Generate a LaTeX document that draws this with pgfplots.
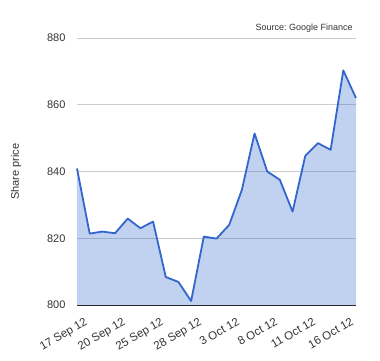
\documentclass[border=0pt]{standalone}
\usepackage{pgfplots}
\pgfplotsset{compat=1.18}
\usepackage{fontspec}
\setmainfont{Liberation Sans}
\definecolor{gline}{HTML}{3366CC}
\definecolor{ggrid}{HTML}{CCCCCC}
\definecolor{gtext}{HTML}{333333}
\begin{document}
\begin{tikzpicture}
\useasboundingbox (-77pt,-55pt) rectangle (303pt,305pt);
\begin{axis}[
  at={(0,0)}, anchor=south west,
  scale only axis, width=279pt, height=267pt,
  clip=false,
  xmin=0, xmax=22, ymin=800, ymax=880,
  ytick={800,820,840,860,880},
  xtick={0,3,6,9,12,15,18,21},
  xticklabels={17 Sep 12,20 Sep 12,25 Sep 12,28 Sep 12,3 Oct 12,8 Oct 12,11 Oct 12,16 Oct 12},
  ymajorgrids, grid style={ggrid, line width=0.8pt},
  major tick length=0pt,
  axis x line*=bottom, axis y line*=left,
  y axis line style={draw=none},
  x axis line style={draw=black!85, line width=1pt},
  /pgf/number format/assume math mode=true,
  yticklabel style={font=\fontsize{11}{13}\selectfont, text=gtext, anchor=east, xshift=-8pt},
  xticklabel style={font=\fontsize{11.5}{13}\selectfont, text=gtext, xshift=7pt, yshift=-12pt, rotate=30, anchor=north east, inner sep=0pt},
  every axis y label/.style={at={(axis description cs:0,0.5)}, xshift=-61pt, rotate=90, anchor=center, font=\fontsize{11}{13}\selectfont, text=gtext},
  ylabel={Share price},
]
\addplot[fill=gline, fill opacity=0.3, draw=none] coordinates {
(0,840.9) (1,821.4) (2,822.0) (3,821.5) (4,825.9) (5,823.0) (6,825.0) (7,808.4)
(8,806.9) (9,801.2) (10,820.5) (11,819.9) (12,824.0) (13,834.5) (14,851.4) (15,840.0)
(16,837.5) (17,828.0) (18,844.7) (19,848.5) (20,846.5) (21,870.3) (22,862.0)
} \closedcycle;
\addplot[gline, line width=1.8pt, line join=round] coordinates {
(0,840.9) (1,821.4) (2,822.0) (3,821.5) (4,825.9) (5,823.0) (6,825.0) (7,808.4)
(8,806.9) (9,801.2) (10,820.5) (11,819.9) (12,824.0) (13,834.5) (14,851.4) (15,840.0)
(16,837.5) (17,828.0) (18,844.7) (19,848.5) (20,846.5) (21,870.3) (22,862.0)
};
\node[anchor=base east, inner sep=0pt, font=\fontsize{9}{11}\selectfont, text=gtext] at (rel axis cs:0.989,1.027) {Source:\ Google\ Finance};
\end{axis}
\end{tikzpicture}
\end{document}
